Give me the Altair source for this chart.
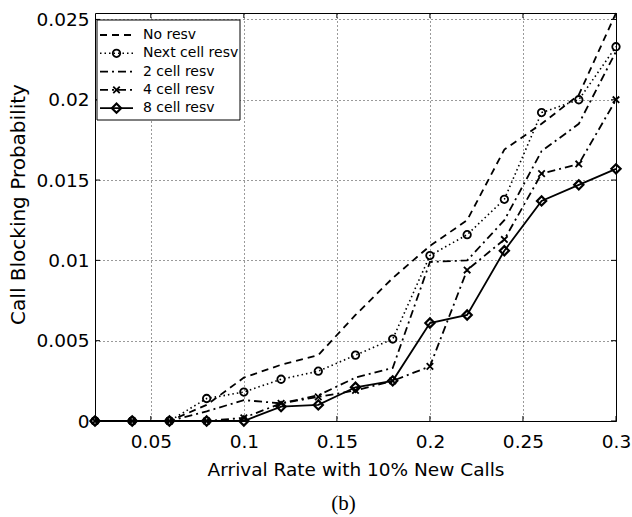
import altair as alt
import pandas as pd

# ---------------- data ----------------
x_vals = [0.02, 0.04, 0.06, 0.08, 0.10, 0.12, 0.14, 0.16, 0.18, 0.20, 0.22, 0.24, 0.26, 0.28, 0.30]
no_resv = [0, 0, 0, 0.0010, 0.0027, 0.0035, 0.0041, 0.0066, 0.0089, 0.0109, 0.0125, 0.0169, 0.0185, 0.0203, 0.0254]
next_cell = [0, 0, 0, 0.0014, 0.0018, 0.0026, 0.0031, 0.0041, 0.0051, 0.0103, 0.0116, 0.0138, 0.0192, 0.0200, 0.0233]
cell2 = [0, 0, 0, 0.0006, 0.0013, 0.0011, 0.0016, 0.0027, 0.0033, 0.0099, 0.0100, 0.0125, 0.0168, 0.0185, 0.0230]
cell4 = [0, 0, 0, 0, 0.0002, 0.0011, 0.0015, 0.0019, 0.0025, 0.0034, 0.0094, 0.0113, 0.0154, 0.0160, 0.0200]
cell8 = [0, 0, 0, 0, 0, 0.0009, 0.0010, 0.0021, 0.0025, 0.0061, 0.0066, 0.0106, 0.0137, 0.0147, 0.0157]

series_names = ["No resv", "Next cell resv", "2 cell resv", "4 cell resv", "8 cell resv"]
series_values = [no_resv, next_cell, cell2, cell4, cell8]

x_ticks = [0.05, 0.1, 0.15, 0.2, 0.25, 0.3]
y_ticks = [0, 0.005, 0.01, 0.015, 0.02, 0.025]

x_title = "Arrival Rate with 10% New Calls"
y_title = "Call Blocking Probability"
panel_label = "(b)"

# ---------------- styling ----------------
W, H = 521, 408
FONT = "DejaVu Sans"
LW = 1.8

X_MARK = "M-1,-1L1,1M1,-1L-1,1"
styles = {
    "No resv": dict(dash=[7, 5], width=LW, shape=None, size=0, mw=0),
    "Next cell resv": dict(dash=[1.5, 3], width=1.6, shape="circle", size=56, mw=1.8),
    "2 cell resv": dict(dash=[8, 4, 2, 4], width=LW, shape=None, size=0, mw=0),
    "4 cell resv": dict(dash=[8, 4, 2, 4], width=LW, shape=X_MARK, size=42, mw=1.8),
    "8 cell resv": dict(dash=None, width=LW, shape="diamond", size=85, mw=2.2),
}

xscale = alt.Scale(domain=[0.02, 0.3], nice=False, zero=False)
yscale = alt.Scale(domain=[0, 0.0254], nice=False, zero=False)

grid_kw = dict(grid=True, gridDash=[1, 3], gridColor="black", gridWidth=0.8, gridOpacity=1)

xaxis = alt.Axis(values=x_ticks, format="~g", title=x_title, ticks=False, domain=False,
                 labelPadding=11, labelFont=FONT, labelFontSize=18.5, labelColor="black",
                 labelFlush=False, labelOverlap=False, labelBound=False,
                 titleFont=FONT, titleFontSize=18.5, titleFontWeight="normal", titleColor="black",
                 titleY=54, titleBaseline="alphabetic", **grid_kw)
yaxis = alt.Axis(values=y_ticks, format="~g", title=y_title, ticks=False, domain=False,
                 labelPadding=6, labelFont=FONT, labelFontSize=18.5, labelColor="black",
                 labelFlush=False, labelOverlap=False, labelBound=False,
                 titleFont=FONT, titleFontSize=20, titleFontWeight="normal", titleColor="black",
                 titleX=-77, titleY=191, titleAlign="center", titleBaseline="middle", titleAngle=270,
                 **grid_kw)

rows = []
for name, vals in zip(series_names, series_values):
    for xv, yv in zip(x_vals, vals):
        rows.append({"series": name, "x": xv, "y": yv})
df = pd.DataFrame(rows)

layers = []
for i, name in enumerate(series_names):
    st = styles[name]
    sub = df[df["series"] == name]
    line_kw = dict(color="black", strokeWidth=st["width"], clip=False)
    if st["dash"]:
        line_kw["strokeDash"] = st["dash"]
    enc_x = alt.X("x:Q", scale=xscale, axis=xaxis)
    enc_y = alt.Y("y:Q", scale=yscale, axis=yaxis)
    layers.append(alt.Chart(sub).mark_line(**line_kw).encode(x=enc_x, y=enc_y))
    if st["shape"]:
        layers.append(
            alt.Chart(sub).mark_point(shape=st["shape"], size=st["size"], filled=False,
                                      stroke="black", strokeWidth=st["mw"], opacity=1)
            .encode(x=enc_x, y=enc_y)
        )

# inner tick marks on all four sides
xt = pd.DataFrame({"x": x_ticks})
yt = pd.DataFrame({"y": y_ticks})
tx = alt.X("x:Q", scale=xscale, axis=xaxis)
ty = alt.Y("y:Q", scale=yscale, axis=yaxis)
layers.append(alt.Chart(xt).mark_rule(color="black", strokeWidth=1).encode(x=tx, y=alt.value(H), y2=alt.value(H - 5)))
layers.append(alt.Chart(xt).mark_rule(color="black", strokeWidth=1).encode(x=tx, y=alt.value(0), y2=alt.value(5)))
layers.append(alt.Chart(yt).mark_rule(color="black", strokeWidth=1).encode(y=ty, x=alt.value(0), x2=alt.value(5)))
layers.append(alt.Chart(yt).mark_rule(color="black", strokeWidth=1).encode(y=ty, x=alt.value(W), x2=alt.value(W - 5)))

# legend box
one = pd.DataFrame({"k": [0]})
layers.append(
    alt.Chart(one).mark_rect(fill="white", stroke="black", strokeWidth=1)
    .encode(x=alt.value(2), x2=alt.value(145), y=alt.value(7), y2=alt.value(107))
)
for i, name in enumerate(series_names):
    st = styles[name]
    ry = 22 + 18.3 * i
    ldf = pd.DataFrame({"label": [name]})
    rule_kw = dict(color="black", strokeWidth=st["width"])
    if st["dash"]:
        rule_kw["strokeDash"] = st["dash"]
    layers.append(alt.Chart(ldf).mark_rule(**rule_kw).encode(x=alt.value(5), x2=alt.value(38), y=alt.value(ry)))
    if st["shape"]:
        layers.append(
            alt.Chart(ldf).mark_point(shape=st["shape"], size=st["size"], filled=False,
                                      stroke="black", strokeWidth=st["mw"], opacity=1)
            .encode(x=alt.value(21.5), y=alt.value(ry))
        )
    layers.append(
        alt.Chart(ldf).mark_text(align="left", baseline="middle", font=FONT, fontSize=14, color="black")
        .encode(x=alt.value(48), y=alt.value(ry), text="label:N")
    )

chart = alt.layer(*layers).properties(
    width=W, height=H,
    padding={"left": 95, "top": 13, "right": 16, "bottom": 96},
    autosize=alt.AutoSizeParams(type="none"),
    title=alt.TitleParams(panel_label, orient="bottom", font="Liberation Serif", fontSize=21,
                          fontWeight="normal", color="black", offset=14, dx=-12),
    background="white",
).configure_view(stroke="black", strokeWidth=1)

chart.save("out.html", embed_options={"renderer": "svg", "actions": False})
